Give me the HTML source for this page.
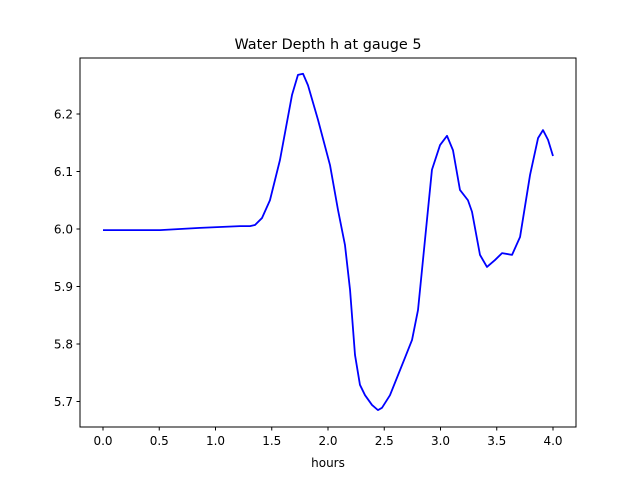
<!DOCTYPE html>
<html><head><meta charset="utf-8"><style>
body{margin:0;background:#fff;font-family:"Liberation Sans","DejaVu Sans",sans-serif}
svg text{font-family:"DejaVu Sans","Liberation Sans",sans-serif}
</style></head><body>
<svg id="c" width="640" height="480" viewBox="0 0 640 480">
<rect width="640" height="480" fill="#fff"/>
<text x="328" y="49" font-size="14.4" text-anchor="middle">Water Depth h at gauge 5</text>
<g id="plot"></g>
<rect x="80" y="58" width="496" height="369" fill="none" stroke="#000" stroke-width="1"/>
<text x="328" y="467" font-size="12" text-anchor="middle">hours</text>
</svg>
<script>
const xs=[0,0.507,0.862,1.218,1.307,1.351,1.413,1.484,1.573,1.68,1.733,1.778,1.822,1.911,2.018,2.089,2.151,2.196,2.24,2.284,2.329,2.391,2.444,2.48,2.551,2.684,2.747,2.8,2.862,2.924,2.996,3.058,3.111,3.173,3.244,3.28,3.351,3.413,3.484,3.547,3.636,3.707,3.796,3.867,3.911,3.956,4.0];
const ys=[5.998,5.998,6.002,6.005,6.005,6.007,6.019,6.05,6.12,6.233,6.268,6.27,6.25,6.19,6.111,6.033,5.972,5.894,5.781,5.729,5.711,5.694,5.685,5.689,5.711,5.776,5.807,5.859,5.981,6.103,6.146,6.162,6.137,6.068,6.05,6.03,5.955,5.934,5.946,5.958,5.955,5.986,6.094,6.158,6.172,6.155,6.127];
const xTicks=[0,0.5,1,1.5,2,2.5,3,3.5,4];
const xTickLabels=["0.0","0.5","1.0","1.5","2.0","2.5","3.0","3.5","4.0"];
const yTicks=[5.7,5.8,5.9,6.0,6.1,6.2];
const yTickLabels=["5.7","5.8","5.9","6.0","6.1","6.2"];
const X=v=>103+v*112.5;
const Y=v=>229-(v-6)*575;
const ns="http://www.w3.org/2000/svg";
const g=document.getElementById('plot');
function mk(t,a){const e=document.createElementNS(ns,t);for(const k in a)e.setAttribute(k,a[k]);g.appendChild(e);return e;}
xTicks.forEach((v,i)=>{
 const l=mk('line',{x1:X(v),x2:X(v),y1:427,y2:430.5,stroke:'#000'});
 
 
 const t=mk('text',{x:X(v),y:445,'font-size':12,'text-anchor':'middle'});t.textContent=xTickLabels[i];
 
 
});
yTicks.forEach((v,i)=>{
 const l=mk('line',{x1:76.5,x2:80,y1:Y(v),y2:Y(v),stroke:'#000'});
 
 
 const t=mk('text',{x:73,y:Y(v)+4.5,'font-size':12,'text-anchor':'end'});t.textContent=yTickLabels[i];
 
 
});
const p=mk('polyline',{points:xs.map((x,i)=>X(x)+','+Y(ys[i])).join(' '),fill:'none',stroke:'#0000ff','stroke-width':1.8,'stroke-linejoin':'round'});


</script>
</body></html>
